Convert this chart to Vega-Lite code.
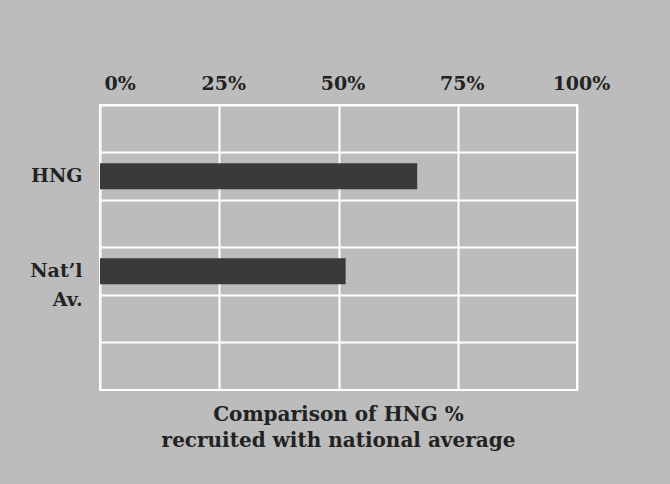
{
  "$schema": "https://vega.github.io/schema/vega-lite/v6.json",
  "width": 477,
  "height": 285,
  "autosize": {"type": "none"},
  "padding": {"left": 100, "top": 105, "right": 93, "bottom": 94},
  "background": "#bcbcbc",
  "config": {
    "view": {"stroke": "white", "strokeWidth": 2, "fill": "#bcbcbc"},
    "font": "DejaVu Serif",
    "axis": {"labelFont": "DejaVu Serif", "labelFontWeight": "bold", "labelColor": "#222222", "labelFontSize": 19, "domain": false, "ticks": false, "gridColor": "white", "gridOpacity": 1, "gridWidth": 2}
  },
  "title": {
    "text": ["Comparison of HNG %", "recruited with national average"],
    "orient": "bottom",
    "fontSize": 20,
    "fontWeight": "bold",
    "font": "DejaVu Serif",
    "color": "#222222",
    "lineHeight": 26,
    "offset": 15
  },
  "data": {
    "values": [
      {"group": "HNG", "percent": 66.5},
      {"group": "Nat’l Av.", "percent": 51.5}
    ]
  },
  "mark": {"type": "bar", "color": "#3a3a3a", "height": {"band": 0.55}},
  "encoding": {
    "x": {
      "field": "percent",
      "type": "quantitative",
      "scale": {"domain": [0, 100], "nice": false},
      "axis": {
        "orient": "top",
        "values": [0, 25, 50, 75, 100],
        "labelExpr": "datum.value + '%'",
        "labelPadding": 12,
        "labelOffset": 4,
        "labelAlign": {"condition": {"test": "datum.value == 0", "value": "left"}, "value": "center"},
        "grid": true,
        "title": null
      }
    },
    "y": {
      "field": "group",
      "type": "nominal",
      "scale": {"domain": [" ", "HNG", "  ", "Nat’l Av.", "   ", "    "], "paddingInner": 0, "paddingOuter": 0},
      "axis": {
        "bandPosition": 0,
        "grid": true,
        "labelPadding": 18,
        "labelExpr": "datum.label == 'Nat’l Av.' ? ['Nat’l', 'Av.'] : datum.label",
        "labelLineHeight": 29,
        "title": null
      }
    }
  }
}
